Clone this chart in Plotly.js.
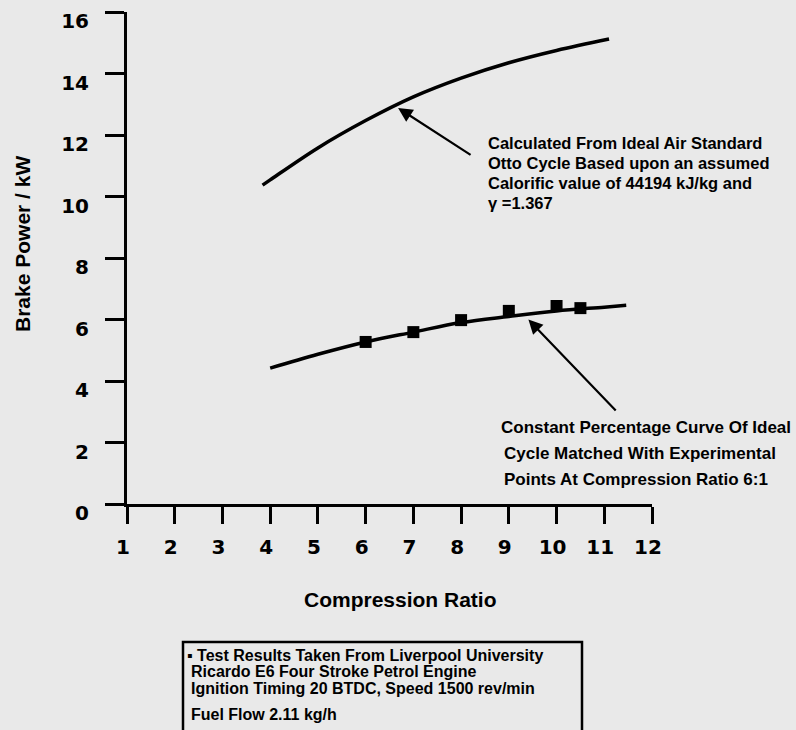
<!DOCTYPE html>
<html>
<head>
<meta charset="utf-8">
<script src="https://cdn.plot.ly/plotly-3.0.1.min.js"></script>
<style>html,body{margin:0;padding:0;background:#e9e9e9;}</style>
</head>
<body>
<div id="chart" style="width:796px;height:730px;"></div>
<script>
// Data
var idealX = [3.84, 4, 5, 6, 7, 8, 9, 10, 11.1];
var idealY = [10.37, 10.54, 11.58, 12.47, 13.24, 13.85, 14.35, 14.75, 15.12];
var constX = [4, 5, 6, 7, 8, 9, 10, 11, 11.46];
var constY = [4.42, 4.87, 5.27, 5.59, 5.9, 6.1, 6.28, 6.4, 6.46];
var testX = [6, 7, 8, 9, 10, 10.5];
var testY = [5.27, 5.59, 5.98, 6.28, 6.44, 6.37];
var xTicks = [1, 2, 3, 4, 5, 6, 7, 8, 9, 10, 11, 12];
var yTicks = [0, 2, 4, 6, 8, 10, 12, 14, 16];

var xTitle = "Compression Ratio";
var yTitle = "Brake Power / kW";
var note1 = ["Calculated From Ideal Air Standard", "Otto Cycle Based upon an assumed", "Calorific value of 44194 kJ/kg and", "γ =1.367"];
var note2 = ["Constant Percentage Curve Of Ideal", "Cycle Matched With Experimental", "Points At Compression Ratio 6:1"];
var legendLines = ["▪ Test Results Taken From Liverpool University", "Ricardo E6 Four Stroke Petrol Engine", "Ignition Timing 20 BTDC, Speed 1500 rev/min", "Fuel Flow 2.11 kg/h"];

// layout geometry (pixels)
var L = 127, R = 652, T = 12, B = 504;
function px(p) { return (p - L) / (R - L); }
function py(p) { return (B - p) / (B - T); }

var FAM = "Liberation Sans, Arial, sans-serif";
function f(size) { return {family: FAM, size: size, color: "#000", weight: "bold"}; }

var traces = [
  {x: idealX, y: idealY, mode: "lines", line: {color: "#000", width: 3.5, shape: "spline", smoothing: 1}, showlegend: false, hoverinfo: "skip"},
  {x: constX, y: constY, mode: "lines", line: {color: "#000", width: 3.5, shape: "spline", smoothing: 1}, showlegend: false, hoverinfo: "skip"},
  {x: testX, y: testY, mode: "markers", name: legendLines.join(" "), marker: {symbol: "square", size: 12, color: "#000"}, showlegend: false}
];

var ann = [];
// arrows
ann.push({x: 6.68, y: 12.88, ax: 8.23, ay: 11.32, xref: "x", yref: "y", axref: "x", ayref: "y", text: "", showarrow: true, arrowhead: 2, arrowsize: 1.3, arrowwidth: 2.2, arrowcolor: "#000"});
ann.push({x: 9.41, y: 6.0, ax: 11.27, ay: 2.99, xref: "x", yref: "y", axref: "x", ayref: "y", text: "", showarrow: true, arrowhead: 2, arrowsize: 1.3, arrowwidth: 2.2, arrowcolor: "#000"});
var n1y = [143, 163, 183, 203];
note1.forEach(function (t, i) {
  ann.push({xref: "paper", yref: "paper", x: px(486), y: py(n1y[i]), xanchor: "left", yanchor: "middle", text: t, showarrow: false, font: f(16.5)});
});
var n2y = [427, 453, 479];
note2.forEach(function (t, i) {
  ann.push({xref: "paper", yref: "paper", x: px(i === 0 ? 499 : 502), y: py(n2y[i]), xanchor: "left", yanchor: "middle", text: t, showarrow: false, font: f(17)});
});
var lgy = [655, 671, 688, 714];
legendLines.forEach(function (t, i) {
  ann.push({xref: "paper", yref: "paper", x: px(i === 0 ? 185 : 189), y: py(lgy[i]), xanchor: "left", yanchor: "middle", text: t, showarrow: false, font: f(16)});
});
// axis titles placed where the reference has them
ann.push({xref: "paper", yref: "paper", x: px(400), y: py(599), xanchor: "center", yanchor: "middle", text: xTitle, showarrow: false, font: f(21)});
ann.push({xref: "paper", yref: "paper", x: px(22), y: py(244), xanchor: "center", yanchor: "middle", text: yTitle, textangle: -90, showarrow: false, font: f(21)});

var tickFont = {family: "DejaVu Sans, sans-serif", size: 20, color: "#000", weight: "bold"};

var layout = {
  width: 796, height: 730,
  margin: {l: L, r: 796 - R, t: T, b: 730 - B, pad: 0},
  paper_bgcolor: "#e9e9e9", plot_bgcolor: "#e9e9e9",
  showlegend: false,
  xaxis: {
    range: [1, 12], tickvals: xTicks, ticktext: xTicks.map(String),
    showline: true, linecolor: "#000", linewidth: 3,
    ticks: "outside", ticklen: 17, tickwidth: 3, tickcolor: "#000",
    showgrid: false, zeroline: false, fixedrange: true,
    tickfont: tickFont, ticklabelstandoff: 6, ticklabelshift: -4,
    automargin: false
  },
  yaxis: {
    range: [0, 16], tickvals: yTicks, ticktext: yTicks.map(String),
    showline: true, linecolor: "#000", linewidth: 3,
    ticks: "outside", ticklen: 19, tickwidth: 3, tickcolor: "#000",
    showgrid: false, zeroline: false, fixedrange: true,
    tickfont: tickFont, ticklabelstandoff: 12, ticklabelshift: 9,
    automargin: false
  },
  shapes: [
    {type: "rect", xref: "paper", yref: "paper", x0: px(183), x1: px(582), y0: py(642), y1: py(745), line: {color: "#000", width: 2.5}, fillcolor: "rgba(0,0,0,0)"}
  ],
  annotations: ann
};

Plotly.newPlot("chart", traces, layout, {displayModeBar: false, staticPlot: true});
</script>
</body>
</html>
